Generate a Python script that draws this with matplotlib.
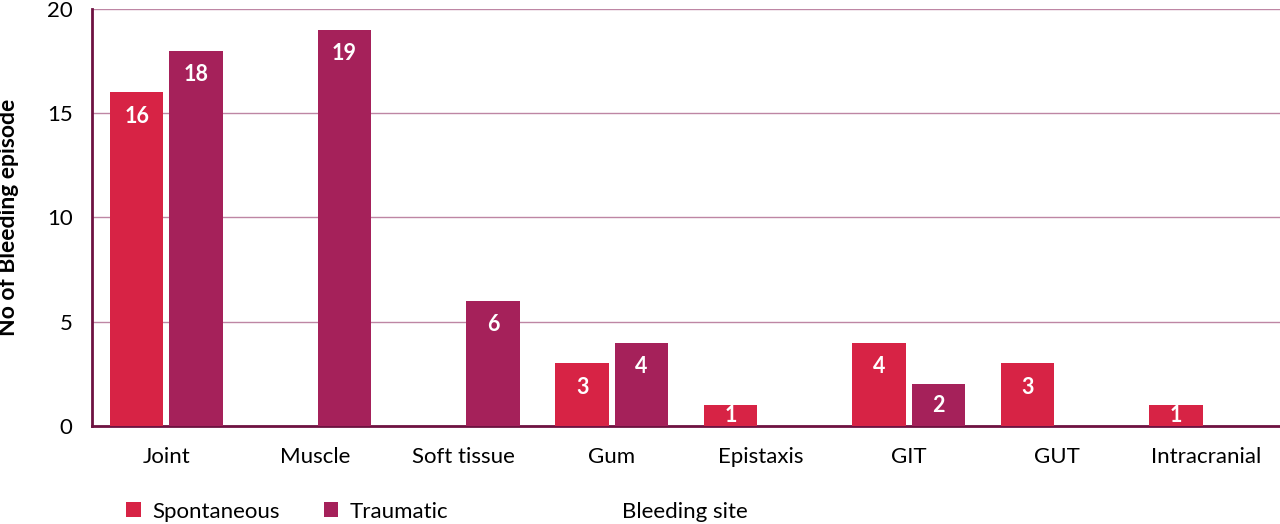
import numpy as np
import matplotlib.pyplot as plt

plt.rcParams['font.family'] = ['Lato', 'DejaVu Sans']

# bleeding sites and episode counts
sites = ['Joint', 'Muscle', 'Soft tissue', 'Gum', 'Epistaxis', 'GIT', 'GUT', 'Intracranial']
spontaneous = [16, 0, 0, 3, 1, 4, 3, 1]
traumatic = [18, 19, 6, 4, 0, 2, 0, 0]

col_spont = '#D72345'
col_traum = '#A5215A'
col_axis = '#6E1241'
col_grid = '#BE86A4'

fig = plt.figure(figsize=(12.8, 5.24), dpi=100)
ax = fig.add_axes([0.072, 0.187, 0.928, 0.796])

x = np.arange(len(sites))
w = 0.36
off = 0.2

def add_bars(xpos, vals, color):
	bars = ax.bar(xpos, vals, w, color=color, zorder=3)
	for b, v in zip(bars, vals):
		if v == 0:
			continue
		# label sits inside the bar near the top
		y = v - min(1.15, v / 2.0)
		ax.text(b.get_x() + b.get_width() / 2, y, str(v), ha='center', va='center',
			color='white', fontsize=15.5, fontweight='bold', zorder=4)
	return bars

b1 = add_bars(x - off, spontaneous, col_spont)
b2 = add_bars(x + off, traumatic, col_traum)

ax.set_xlim(-0.5, len(sites) - 0.5)
ax.set_ylim(0, 20)
ax.set_yticks([0, 5, 10, 15, 20])
ax.set_xticks(x)
ax.set_xticklabels(sites, fontsize=16)
ax.tick_params(axis='y', labelsize=16, length=0, pad=14)
ax.tick_params(axis='x', length=0, pad=15)
ax.yaxis.grid(True, color=col_grid, linewidth=1, zorder=0)
ax.set_axisbelow(True)

for s in ['top', 'right']:
	ax.spines[s].set_visible(False)
ax.spines['left'].set_color(col_axis)
ax.spines['left'].set_linewidth(2)
ax.spines['bottom'].set_color(col_axis)
ax.spines['bottom'].set_linewidth(2)

# y axis title, hugging the left edge as in the original
fig.text(9 / 1280, 1 - 217 / 524, 'No of Bleeding episode', rotation=90,
	ha='center', va='center', fontsize=16.5, fontweight='bold')

ax.legend([b1, b2], ['Spontaneous', 'Traumatic'], loc='center left',
	bbox_to_anchor=(0.012, -0.205), ncol=2, frameon=False, fontsize=16,
	handlelength=0.65, handleheight=0.65, columnspacing=2.0, handletextpad=0.5)

fig.text(0.486, 0.023, 'Bleeding site', fontsize=16, va='center', ha='left')

plt.savefig('out.png', dpi=100)
